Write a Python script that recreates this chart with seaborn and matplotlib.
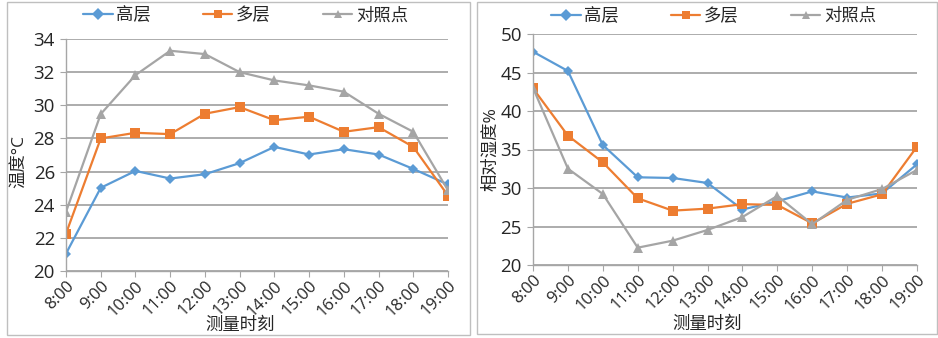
import numpy as np
import pandas as pd
import matplotlib
matplotlib.use("Agg")
import matplotlib.pyplot as plt
import seaborn as sns
from matplotlib.patches import Rectangle

# measurement times
times = ["8:00", "9:00", "10:00", "11:00", "12:00", "13:00",
         "14:00", "15:00", "16:00", "17:00", "18:00", "19:00"]
series = ["高层", "多层", "对照点"]

# temperature (°C)
temp_high = [21.05, 25.02, 26.04, 25.58, 25.84, 26.51, 27.49, 27.03, 27.35, 27.03, 26.16, 25.22]
temp_multi = [22.26, 28.0, 28.34, 28.26, 29.49, 29.89, 29.1, 29.31, 28.4, 28.68, 27.49, 24.55]
temp_ctrl = [23.57, 29.47, 31.82, 33.29, 33.09, 32.0, 31.5, 31.2, 30.82, 29.49, 28.4, 24.87]

# relative humidity (%)
rh_high = [47.7, 45.2, 35.58, 31.39, 31.3, 30.65, 27.2, 28.28, 29.56, 28.76, 29.3, 33.08]
rh_multi = [42.94, 36.8, 33.33, 28.66, 27.06, 27.32, 27.9, 27.8, 25.4, 27.95, 29.18, 35.37]
rh_ctrl = [43.0, 32.51, 29.22, 22.25, 23.16, 24.55, 26.23, 28.97, 25.3, 28.46, 29.87, 32.35]

colors = {"高层": "#5B9BD5", "多层": "#ED7D31", "对照点": "#A5A5A5"}
markers = {"高层": "D", "多层": "s", "对照点": "^"}
msize = {"高层": 5, "多层": 7, "对照点": 7}


def long_frame(vals):
    rows = []
    for name, v in zip(series, vals):
        for t, y in zip(times, v):
            rows.append({"time": t, "value": y, "series": name})
    return pd.DataFrame(rows)


sns.set_style("white")
plt.rcParams["font.family"] = ["Open Sans", "Noto Sans CJK SC", "DejaVu Sans"]
plt.rcParams["axes.unicode_minus"] = False

fig = plt.figure(figsize=(9.38, 3.38), dpi=100)
W, H = 938, 338


def px_axes(x0, y0, x1, y1):
    return fig.add_axes([x0 / W, 1 - y1 / H, (x1 - x0) / W, (y1 - y0) / H])


def frame(x0, y0, x1, y1):
    fig.add_artist(Rectangle((x0 / W, 1 - y1 / H), (x1 - x0) / W, (y1 - y0) / H,
                             transform=fig.transFigure, fill=False,
                             edgecolor="#BFBFBF", linewidth=1.0))


def draw(ax, vals, ylim, step, ylabel, leg_y):
    df = long_frame(vals)
    sns.lineplot(data=df, x="time", y="value", hue="series", style="series",
                 palette=colors, markers=markers, dashes=False, sort=False,
                 linewidth=1.6, markeredgewidth=0, ax=ax)
    for line, name in zip(ax.lines, series):
        line.set_markersize(msize[name])
    ax.set_xlim(0, len(times) - 1)
    ax.set_ylim(*ylim)
    ax.set_yticks(np.arange(ylim[0], ylim[1] + 0.1, step))
    ax.grid(axis="y", color="#A6A6A6", linewidth=1.3)
    ax.set_axisbelow(True)
    for s in ["top", "right"]:
        ax.spines[s].set_visible(False)
    for s in ["left", "bottom"]:
        ax.spines[s].set_color("#A6A6A6")
        ax.spines[s].set_linewidth(1.0)
    ax.tick_params(axis="both", direction="out", length=4, color="#A6A6A6",
                   left=True, bottom=True)
    ax.tick_params(axis="y", labelsize=13.5, pad=4)
    ax.tick_params(axis="x", labelsize=12, pad=1)
    plt.setp(ax.get_xticklabels(), rotation=45, ha="right", rotation_mode="anchor")
    ax.set_ylabel(ylabel, fontsize=12.5, labelpad=1)
    ax.set_xlabel("测量时刻", fontsize=12.5, labelpad=1)
    ax.xaxis.label.set_va("top")
    sns.move_legend(ax, "center", bbox_to_anchor=(0.47, leg_y), ncol=3,
                    title=None, frameon=False, fontsize=12.5,
                    handlelength=1.7, handletextpad=0.2, columnspacing=3.0)


frame(7, 2, 470, 335)
frame(477, 2, 937, 334)

ax1 = px_axes(66, 39, 448, 271)
draw(ax1, [temp_high, temp_multi, temp_ctrl], (20, 34), 2, "温度°C", 1.1)
ax1.xaxis.set_label_coords(0.455, -0.2)
ax1.yaxis.set_label_coords(-0.1, 0.47)

ax2 = px_axes(533, 34, 917, 265)
draw(ax2, [rh_high, rh_multi, rh_ctrl], (20, 50), 5, "相对湿度%", 1.075)
ax2.xaxis.set_label_coords(0.453, -0.225)

fig.savefig("out.png", dpi=100)
